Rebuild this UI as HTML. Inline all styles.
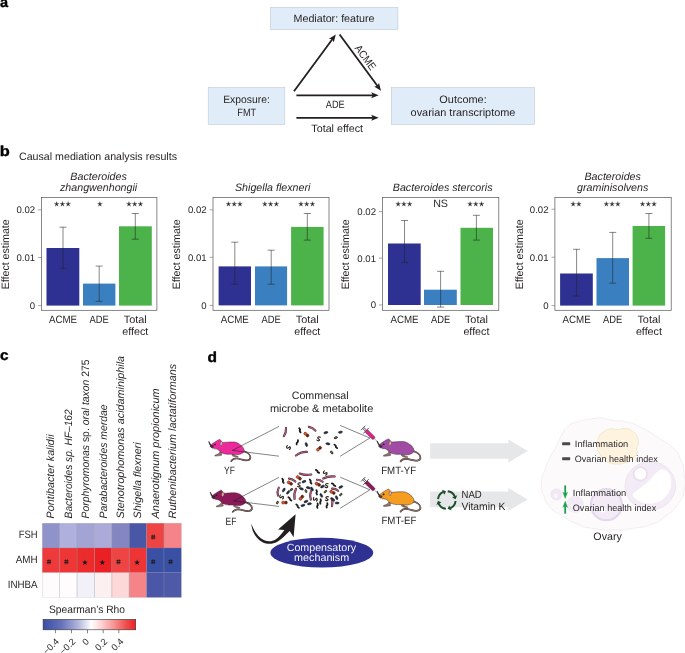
<!DOCTYPE html>
<html><head><meta charset="utf-8"><title>Figure</title>
<style>
html,body{margin:0;padding:0;background:#fff;}
body{width:685px;height:653px;overflow:hidden;}
svg{display:block;font-family:"Liberation Sans",sans-serif;fill:#231f20;will-change:transform;text-rendering:geometricPrecision;}
</style></head><body>
<svg width="685" height="653" viewBox="0 0 685 653">
<rect width="685" height="653" fill="#fff"/>
<g id="pa">
<text transform="translate(-0.1 7.4) scale(1.0 1)" font-size="14.5" font-weight="bold" fill="#000" stroke="#000" stroke-width="0.35" stroke-linejoin="round">a</text>
<rect x="270.4" y="7.5" width="127.5" height="22.1" fill="#e0edf9" stroke="#bfc9d4" stroke-width="0.6"/>
<rect x="208.2" y="87.6" width="76.6" height="36.8" fill="#e0edf9" stroke="#bfc9d4" stroke-width="0.6"/>
<rect x="391.3" y="87.6" width="143.3" height="36.8" fill="#e0edf9" stroke="#bfc9d4" stroke-width="0.6"/>
<text x="334" y="21.7" font-size="10.7" text-anchor="middle" textLength="81" lengthAdjust="spacingAndGlyphs" >Mediator: feature</text>
<text x="246.5" y="103.2" font-size="10.7" text-anchor="middle" textLength="46.6" lengthAdjust="spacingAndGlyphs" >Exposure:</text>
<text x="246.7" y="116" font-size="10.7" text-anchor="middle" textLength="18.8" lengthAdjust="spacingAndGlyphs" >FMT</text>
<text x="463" y="103.2" font-size="10.7" text-anchor="middle" textLength="47.4" lengthAdjust="spacingAndGlyphs" >Outcome:</text>
<text x="463" y="116" font-size="10.7" text-anchor="middle" textLength="104.8" lengthAdjust="spacingAndGlyphs" >ovarian transcriptome</text>
<g stroke="#231f20" stroke-width="1.8" fill="none">
<line x1="294" y1="91.2" x2="334" y2="37"/>
<line x1="339.6" y1="34.5" x2="379" y2="88"/>
<line x1="296.4" y1="95.3" x2="375" y2="95.3"/>
<line x1="296.4" y1="117.8" x2="375" y2="117.8"/>
</g>
<path d="M335.8 34.5 L333.8 42.3 L332.2 39.3 L328.9 38.8Z" fill="#231f20"/>
<path d="M381.0 90.7 L374.1 86.4 L377.4 85.9 L379.0 82.9Z" fill="#231f20"/>
<path d="M378.7 95.3 L371.2 98.3 L372.7 95.3 L371.2 92.3Z" fill="#231f20"/>
<path d="M378.7 117.8 L371.2 120.8 L372.7 117.8 L371.2 114.8Z" fill="#231f20"/>
<text x="335.2" y="108.2" font-size="10.7" text-anchor="middle" textLength="18.8" lengthAdjust="spacingAndGlyphs" >ADE</text>
<text x="337.2" y="131.5" font-size="10.7" text-anchor="middle" textLength="51.7" lengthAdjust="spacingAndGlyphs" >Total effect</text>
<text x="0" y="0" font-size="10.7" text-anchor="middle" textLength="28.2" lengthAdjust="spacingAndGlyphs" transform="translate(362.6 59.6) rotate(53.6)">ACME</text>
</g>
<g id="pb">
<text transform="translate(-0.3 155.8) scale(1.13 1)" font-size="14.5" font-weight="bold" fill="#000" stroke="#000" stroke-width="0.35" stroke-linejoin="round">b</text>
<text x="19" y="159.6" font-size="10.7" textLength="158" lengthAdjust="spacingAndGlyphs" >Causal mediation analysis results</text>
<rect x="41.5" y="197.5" width="115.4" height="112.8" fill="#fff" stroke="#555" stroke-width="0.7"/>
<line x1="38.1" y1="305.6" x2="41.5" y2="305.6" stroke="#6a6a6a" stroke-width="0.6"/>
<text x="35.1" y="309.0" font-size="9.6" text-anchor="end" >0</text>
<line x1="38.1" y1="257.5" x2="41.5" y2="257.5" stroke="#6a6a6a" stroke-width="0.6"/>
<text x="35.1" y="260.9" font-size="9.6" text-anchor="end" >0.01</text>
<line x1="38.1" y1="209.8" x2="41.5" y2="209.8" stroke="#6a6a6a" stroke-width="0.6"/>
<text x="35.1" y="213.2" font-size="9.6" text-anchor="end" >0.02</text>
<rect x="46.5" y="248.0" width="32.8" height="57.6" fill="#2e3192"/>
<rect x="83" y="283.6" width="32.4" height="22.0" fill="#3a80c0"/>
<rect x="119" y="226.3" width="32.8" height="79.3" fill="#4cb24a"/>
<path d="M63 227.2V268.3M59.5 227.2H66.5M59.5 268.3H66.5" stroke="#222" stroke-width="0.55" fill="none"/>
<path d="M99.2 266.1V301.3M95.7 266.1H102.7M95.7 301.3H102.7" stroke="#222" stroke-width="0.55" fill="none"/>
<path d="M135.3 213.5V239.2M131.8 213.5H138.8M131.8 239.2H138.8" stroke="#222" stroke-width="0.55" fill="none"/>
<polygon points="56.65,201.55 57.15,203.41 59.08,203.31 57.46,204.36 58.15,206.16 56.65,204.95 55.15,206.16 55.84,204.36 54.22,203.31 56.15,203.41" fill="#2a2627" stroke="#2a2627" stroke-width="0.25" stroke-linejoin="round"/>
<polygon points="62.40,201.55 62.90,203.41 64.83,203.31 63.21,204.36 63.90,206.16 62.40,204.95 60.90,206.16 61.59,204.36 59.97,203.31 61.90,203.41" fill="#2a2627" stroke="#2a2627" stroke-width="0.25" stroke-linejoin="round"/>
<polygon points="68.15,201.55 68.65,203.41 70.58,203.31 68.96,204.36 69.65,206.16 68.15,204.95 66.65,206.16 67.34,204.36 65.72,203.31 67.65,203.41" fill="#2a2627" stroke="#2a2627" stroke-width="0.25" stroke-linejoin="round"/>
<polygon points="99.90,201.55 100.40,203.41 102.33,203.31 100.71,204.36 101.40,206.16 99.90,204.95 98.40,206.16 99.09,204.36 97.47,203.31 99.40,203.41" fill="#2a2627" stroke="#2a2627" stroke-width="0.25" stroke-linejoin="round"/>
<polygon points="128.95,201.55 129.45,203.41 131.38,203.31 129.76,204.36 130.45,206.16 128.95,204.95 127.45,206.16 128.14,204.36 126.52,203.31 128.45,203.41" fill="#2a2627" stroke="#2a2627" stroke-width="0.25" stroke-linejoin="round"/>
<polygon points="134.70,201.55 135.20,203.41 137.13,203.31 135.51,204.36 136.20,206.16 134.70,204.95 133.20,206.16 133.89,204.36 132.27,203.31 134.20,203.41" fill="#2a2627" stroke="#2a2627" stroke-width="0.25" stroke-linejoin="round"/>
<polygon points="140.45,201.55 140.95,203.41 142.88,203.31 141.26,204.36 141.95,206.16 140.45,204.95 138.95,206.16 139.64,204.36 138.02,203.31 139.95,203.41" fill="#2a2627" stroke="#2a2627" stroke-width="0.25" stroke-linejoin="round"/>
<text x="63" y="322.7" font-size="10.7" text-anchor="middle" textLength="28.2" lengthAdjust="spacingAndGlyphs" >ACME</text>
<text x="99.2" y="322.7" font-size="10.7" text-anchor="middle" textLength="19.3" lengthAdjust="spacingAndGlyphs" >ADE</text>
<text x="135.3" y="322.7" font-size="10.7" text-anchor="middle" textLength="23" lengthAdjust="spacingAndGlyphs" >Total</text>
<text x="135.3" y="335.3" font-size="10.7" text-anchor="middle" >effect</text>
<text x="98.6" y="179.8" font-size="10.7" text-anchor="middle" font-style="italic" >Bacteroides</text>
<text x="98.6" y="190.8" font-size="10.7" text-anchor="middle" font-style="italic" >zhangwenhongii</text>
<text x="0" y="0" font-size="10.7" text-anchor="middle" textLength="70" lengthAdjust="spacingAndGlyphs" transform="translate(9.3 254.3) rotate(-90)">Effect estimate</text>
<rect x="213" y="197.5" width="116.0" height="112.8" fill="#fff" stroke="#555" stroke-width="0.7"/>
<line x1="209.6" y1="305.4" x2="213" y2="305.4" stroke="#6a6a6a" stroke-width="0.6"/>
<text x="206.6" y="308.8" font-size="9.6" text-anchor="end" >0</text>
<line x1="209.6" y1="257.3" x2="213" y2="257.3" stroke="#6a6a6a" stroke-width="0.6"/>
<text x="206.6" y="260.7" font-size="9.6" text-anchor="end" >0.01</text>
<line x1="209.6" y1="209.8" x2="213" y2="209.8" stroke="#6a6a6a" stroke-width="0.6"/>
<text x="206.6" y="213.2" font-size="9.6" text-anchor="end" >0.02</text>
<rect x="218.6" y="266.4" width="32.4" height="39.0" fill="#2e3192"/>
<rect x="255" y="266.4" width="32.1" height="39.0" fill="#3a80c0"/>
<rect x="291.1" y="226.9" width="32.5" height="78.5" fill="#4cb24a"/>
<path d="M234.8 242.2V284.2M231.3 242.2H238.3M231.3 284.2H238.3" stroke="#222" stroke-width="0.55" fill="none"/>
<path d="M271.2 250.2V284.2M267.7 250.2H274.7M267.7 284.2H274.7" stroke="#222" stroke-width="0.55" fill="none"/>
<path d="M307.3 213.5V240.1M303.8 213.5H310.8M303.8 240.1H310.8" stroke="#222" stroke-width="0.55" fill="none"/>
<polygon points="228.45,201.55 228.95,203.41 230.88,203.31 229.26,204.36 229.95,206.16 228.45,204.95 226.95,206.16 227.64,204.36 226.02,203.31 227.95,203.41" fill="#2a2627" stroke="#2a2627" stroke-width="0.25" stroke-linejoin="round"/>
<polygon points="234.20,201.55 234.70,203.41 236.63,203.31 235.01,204.36 235.70,206.16 234.20,204.95 232.70,206.16 233.39,204.36 231.77,203.31 233.70,203.41" fill="#2a2627" stroke="#2a2627" stroke-width="0.25" stroke-linejoin="round"/>
<polygon points="239.95,201.55 240.45,203.41 242.38,203.31 240.76,204.36 241.45,206.16 239.95,204.95 238.45,206.16 239.14,204.36 237.52,203.31 239.45,203.41" fill="#2a2627" stroke="#2a2627" stroke-width="0.25" stroke-linejoin="round"/>
<polygon points="264.85,201.55 265.35,203.41 267.28,203.31 265.66,204.36 266.35,206.16 264.85,204.95 263.35,206.16 264.04,204.36 262.42,203.31 264.35,203.41" fill="#2a2627" stroke="#2a2627" stroke-width="0.25" stroke-linejoin="round"/>
<polygon points="270.60,201.55 271.10,203.41 273.03,203.31 271.41,204.36 272.10,206.16 270.60,204.95 269.10,206.16 269.79,204.36 268.17,203.31 270.10,203.41" fill="#2a2627" stroke="#2a2627" stroke-width="0.25" stroke-linejoin="round"/>
<polygon points="276.35,201.55 276.85,203.41 278.78,203.31 277.16,204.36 277.85,206.16 276.35,204.95 274.85,206.16 275.54,204.36 273.92,203.31 275.85,203.41" fill="#2a2627" stroke="#2a2627" stroke-width="0.25" stroke-linejoin="round"/>
<polygon points="300.95,201.55 301.45,203.41 303.38,203.31 301.76,204.36 302.45,206.16 300.95,204.95 299.45,206.16 300.14,204.36 298.52,203.31 300.45,203.41" fill="#2a2627" stroke="#2a2627" stroke-width="0.25" stroke-linejoin="round"/>
<polygon points="306.70,201.55 307.20,203.41 309.13,203.31 307.51,204.36 308.20,206.16 306.70,204.95 305.20,206.16 305.89,204.36 304.27,203.31 306.20,203.41" fill="#2a2627" stroke="#2a2627" stroke-width="0.25" stroke-linejoin="round"/>
<polygon points="312.45,201.55 312.95,203.41 314.88,203.31 313.26,204.36 313.95,206.16 312.45,204.95 310.95,206.16 311.64,204.36 310.02,203.31 311.95,203.41" fill="#2a2627" stroke="#2a2627" stroke-width="0.25" stroke-linejoin="round"/>
<text x="234.8" y="322.7" font-size="10.7" text-anchor="middle" textLength="28.2" lengthAdjust="spacingAndGlyphs" >ACME</text>
<text x="271.2" y="322.7" font-size="10.7" text-anchor="middle" textLength="19.3" lengthAdjust="spacingAndGlyphs" >ADE</text>
<text x="307.3" y="322.7" font-size="10.7" text-anchor="middle" textLength="23" lengthAdjust="spacingAndGlyphs" >Total</text>
<text x="307.3" y="335.3" font-size="10.7" text-anchor="middle" >effect</text>
<text x="272.7" y="190.8" font-size="10.7" text-anchor="middle" font-style="italic" >Shigella flexneri</text>
<text x="0" y="0" font-size="10.7" text-anchor="middle" textLength="70" lengthAdjust="spacingAndGlyphs" transform="translate(180.2 254.3) rotate(-90)">Effect estimate</text>
<rect x="382.4" y="197.5" width="116.4" height="112.8" fill="#fff" stroke="#555" stroke-width="0.7"/>
<line x1="379.0" y1="305.0" x2="382.4" y2="305.0" stroke="#6a6a6a" stroke-width="0.6"/>
<text x="376.0" y="308.4" font-size="9.6" text-anchor="end" >0</text>
<line x1="379.0" y1="258.1" x2="382.4" y2="258.1" stroke="#6a6a6a" stroke-width="0.6"/>
<text x="376.0" y="261.5" font-size="9.6" text-anchor="end" >0.01</text>
<line x1="379.0" y1="211.6" x2="382.4" y2="211.6" stroke="#6a6a6a" stroke-width="0.6"/>
<text x="376.0" y="215.0" font-size="9.6" text-anchor="end" >0.02</text>
<rect x="388" y="243.5" width="32.7" height="61.5" fill="#2e3192"/>
<rect x="424" y="289.7" width="32.8" height="15.3" fill="#3a80c0"/>
<rect x="460.5" y="227.8" width="32.5" height="77.2" fill="#4cb24a"/>
<path d="M404.5 220.5V262.4M401.0 220.5H408.0M401.0 262.4H408.0" stroke="#222" stroke-width="0.55" fill="none"/>
<path d="M440.6 271.3V307.1M437.1 271.3H444.1M437.1 307.1H444.1" stroke="#222" stroke-width="0.55" fill="none"/>
<path d="M476.4 215.3V240.1M472.9 215.3H479.9M472.9 240.1H479.9" stroke="#222" stroke-width="0.55" fill="none"/>
<polygon points="398.15,201.55 398.65,203.41 400.58,203.31 398.96,204.36 399.65,206.16 398.15,204.95 396.65,206.16 397.34,204.36 395.72,203.31 397.65,203.41" fill="#2a2627" stroke="#2a2627" stroke-width="0.25" stroke-linejoin="round"/>
<polygon points="403.90,201.55 404.40,203.41 406.33,203.31 404.71,204.36 405.40,206.16 403.90,204.95 402.40,206.16 403.09,204.36 401.47,203.31 403.40,203.41" fill="#2a2627" stroke="#2a2627" stroke-width="0.25" stroke-linejoin="round"/>
<polygon points="409.65,201.55 410.15,203.41 412.08,203.31 410.46,204.36 411.15,206.16 409.65,204.95 408.15,206.16 408.84,204.36 407.22,203.31 409.15,203.41" fill="#2a2627" stroke="#2a2627" stroke-width="0.25" stroke-linejoin="round"/>
<text x="440.6" y="207.2" font-size="10.7" text-anchor="middle" >NS</text>
<polygon points="470.05,201.55 470.55,203.41 472.48,203.31 470.86,204.36 471.55,206.16 470.05,204.95 468.55,206.16 469.24,204.36 467.62,203.31 469.55,203.41" fill="#2a2627" stroke="#2a2627" stroke-width="0.25" stroke-linejoin="round"/>
<polygon points="475.80,201.55 476.30,203.41 478.23,203.31 476.61,204.36 477.30,206.16 475.80,204.95 474.30,206.16 474.99,204.36 473.37,203.31 475.30,203.41" fill="#2a2627" stroke="#2a2627" stroke-width="0.25" stroke-linejoin="round"/>
<polygon points="481.55,201.55 482.05,203.41 483.98,203.31 482.36,204.36 483.05,206.16 481.55,204.95 480.05,206.16 480.74,204.36 479.12,203.31 481.05,203.41" fill="#2a2627" stroke="#2a2627" stroke-width="0.25" stroke-linejoin="round"/>
<text x="404.5" y="322.7" font-size="10.7" text-anchor="middle" textLength="28.2" lengthAdjust="spacingAndGlyphs" >ACME</text>
<text x="440.6" y="322.7" font-size="10.7" text-anchor="middle" textLength="19.3" lengthAdjust="spacingAndGlyphs" >ADE</text>
<text x="476.4" y="322.7" font-size="10.7" text-anchor="middle" textLength="23" lengthAdjust="spacingAndGlyphs" >Total</text>
<text x="476.4" y="335.3" font-size="10.7" text-anchor="middle" >effect</text>
<text x="442.7" y="190.8" font-size="10.7" text-anchor="middle" font-style="italic" >Bacteroides stercoris</text>
<text x="0" y="0" font-size="10.7" text-anchor="middle" textLength="70" lengthAdjust="spacingAndGlyphs" transform="translate(348.6 254.3) rotate(-90)">Effect estimate</text>
<rect x="554.9" y="197.5" width="116.3" height="112.8" fill="#fff" stroke="#555" stroke-width="0.7"/>
<line x1="551.5" y1="305.6" x2="554.9" y2="305.6" stroke="#6a6a6a" stroke-width="0.6"/>
<text x="548.5" y="309.0" font-size="9.6" text-anchor="end" >0</text>
<line x1="551.5" y1="257.2" x2="554.9" y2="257.2" stroke="#6a6a6a" stroke-width="0.6"/>
<text x="548.5" y="260.6" font-size="9.6" text-anchor="end" >0.01</text>
<line x1="551.5" y1="209.2" x2="554.9" y2="209.2" stroke="#6a6a6a" stroke-width="0.6"/>
<text x="548.5" y="212.6" font-size="9.6" text-anchor="end" >0.02</text>
<rect x="560.1" y="273.5" width="32.7" height="32.1" fill="#2e3192"/>
<rect x="596.5" y="258.1" width="32.5" height="47.5" fill="#3a80c0"/>
<rect x="632.6" y="226.0" width="32.5" height="79.6" fill="#4cb24a"/>
<path d="M576.6 249.3V296.1M573.1 249.3H580.1M573.1 296.1H580.1" stroke="#222" stroke-width="0.55" fill="none"/>
<path d="M612.7 232.4V283.2M609.2 232.4H616.2M609.2 283.2H616.2" stroke="#222" stroke-width="0.55" fill="none"/>
<path d="M648.9 213.5V238.3M645.4 213.5H652.4M645.4 238.3H652.4" stroke="#222" stroke-width="0.55" fill="none"/>
<polygon points="573.12,201.55 573.62,203.41 575.55,203.31 573.93,204.36 574.62,206.16 573.12,204.95 571.63,206.16 572.32,204.36 570.70,203.31 572.63,203.41" fill="#2a2627" stroke="#2a2627" stroke-width="0.25" stroke-linejoin="round"/>
<polygon points="578.88,201.55 579.37,203.41 581.30,203.31 579.68,204.36 580.37,206.16 578.88,204.95 577.38,206.16 578.07,204.36 576.45,203.31 578.38,203.41" fill="#2a2627" stroke="#2a2627" stroke-width="0.25" stroke-linejoin="round"/>
<polygon points="606.35,201.55 606.85,203.41 608.78,203.31 607.16,204.36 607.85,206.16 606.35,204.95 604.85,206.16 605.54,204.36 603.92,203.31 605.85,203.41" fill="#2a2627" stroke="#2a2627" stroke-width="0.25" stroke-linejoin="round"/>
<polygon points="612.10,201.55 612.60,203.41 614.53,203.31 612.91,204.36 613.60,206.16 612.10,204.95 610.60,206.16 611.29,204.36 609.67,203.31 611.60,203.41" fill="#2a2627" stroke="#2a2627" stroke-width="0.25" stroke-linejoin="round"/>
<polygon points="617.85,201.55 618.35,203.41 620.28,203.31 618.66,204.36 619.35,206.16 617.85,204.95 616.35,206.16 617.04,204.36 615.42,203.31 617.35,203.41" fill="#2a2627" stroke="#2a2627" stroke-width="0.25" stroke-linejoin="round"/>
<polygon points="642.55,201.55 643.05,203.41 644.98,203.31 643.36,204.36 644.05,206.16 642.55,204.95 641.05,206.16 641.74,204.36 640.12,203.31 642.05,203.41" fill="#2a2627" stroke="#2a2627" stroke-width="0.25" stroke-linejoin="round"/>
<polygon points="648.30,201.55 648.80,203.41 650.73,203.31 649.11,204.36 649.80,206.16 648.30,204.95 646.80,206.16 647.49,204.36 645.87,203.31 647.80,203.41" fill="#2a2627" stroke="#2a2627" stroke-width="0.25" stroke-linejoin="round"/>
<polygon points="654.05,201.55 654.55,203.41 656.48,203.31 654.86,204.36 655.55,206.16 654.05,204.95 652.55,206.16 653.24,204.36 651.62,203.31 653.55,203.41" fill="#2a2627" stroke="#2a2627" stroke-width="0.25" stroke-linejoin="round"/>
<text x="576.6" y="322.7" font-size="10.7" text-anchor="middle" textLength="28.2" lengthAdjust="spacingAndGlyphs" >ACME</text>
<text x="612.7" y="322.7" font-size="10.7" text-anchor="middle" textLength="19.3" lengthAdjust="spacingAndGlyphs" >ADE</text>
<text x="648.9" y="322.7" font-size="10.7" text-anchor="middle" textLength="23" lengthAdjust="spacingAndGlyphs" >Total</text>
<text x="648.9" y="335.3" font-size="10.7" text-anchor="middle" >effect</text>
<text x="612.7" y="179.8" font-size="10.7" text-anchor="middle" font-style="italic" >Bacteroides</text>
<text x="612.7" y="190.8" font-size="10.7" text-anchor="middle" font-style="italic" >graminisolvens</text>
<text x="0" y="0" font-size="10.7" text-anchor="middle" textLength="70" lengthAdjust="spacingAndGlyphs" transform="translate(523.2 254.3) rotate(-90)">Effect estimate</text>
</g>
<g id="pc">
<text transform="translate(-0.1 359.9) scale(1.06 1)" font-size="14.5" font-weight="bold" fill="#000" stroke="#000" stroke-width="0.35" stroke-linejoin="round">c</text>
<rect x="42.30" y="523.20" width="17.43" height="24.78" fill="#9092ca"/>
<rect x="59.67" y="523.20" width="17.43" height="24.78" fill="#b0b0dc"/>
<rect x="77.05" y="523.20" width="17.43" height="24.78" fill="#a4a4d4"/>
<rect x="94.42" y="523.20" width="17.43" height="24.78" fill="#acaad8"/>
<rect x="111.80" y="523.20" width="17.43" height="24.78" fill="#8486c2"/>
<rect x="129.18" y="523.20" width="17.43" height="24.78" fill="#4a56a6"/>
<rect x="146.55" y="523.20" width="17.43" height="24.78" fill="#ee4444"/>
<rect x="163.93" y="523.20" width="17.43" height="24.78" fill="#f48488"/>
<rect x="42.30" y="547.93" width="17.43" height="24.78" fill="#ee3a3a"/>
<rect x="59.67" y="547.93" width="17.43" height="24.78" fill="#ee3636"/>
<rect x="77.05" y="547.93" width="17.43" height="24.78" fill="#ec2c2c"/>
<rect x="94.42" y="547.93" width="17.43" height="24.78" fill="#ea2024"/>
<rect x="111.80" y="547.93" width="17.43" height="24.78" fill="#ee4444"/>
<rect x="129.18" y="547.93" width="17.43" height="24.78" fill="#ee3434"/>
<rect x="146.55" y="547.93" width="17.43" height="24.78" fill="#3a50a4"/>
<rect x="163.93" y="547.93" width="17.43" height="24.78" fill="#3a50a4"/>
<rect x="42.30" y="572.66" width="17.43" height="24.78" fill="#fefcfc"/>
<rect x="59.67" y="572.66" width="17.43" height="24.78" fill="#fefcfc"/>
<rect x="77.05" y="572.66" width="17.43" height="24.78" fill="#f2f0f8"/>
<rect x="94.42" y="572.66" width="17.43" height="24.78" fill="#fdf0f0"/>
<rect x="111.80" y="572.66" width="17.43" height="24.78" fill="#fcd8d8"/>
<rect x="129.18" y="572.66" width="17.43" height="24.78" fill="#f48488"/>
<rect x="146.55" y="572.66" width="17.43" height="24.78" fill="#4a56a6"/>
<rect x="163.93" y="572.66" width="17.43" height="24.78" fill="#4e5aa8"/>
<line x1="42.30" y1="523.2" x2="42.30" y2="597.39" stroke="#8e8e9a" stroke-width="0.5" opacity="0.45"/>
<line x1="59.67" y1="523.2" x2="59.67" y2="597.39" stroke="#8e8e9a" stroke-width="0.5" opacity="0.8"/>
<line x1="77.05" y1="523.2" x2="77.05" y2="597.39" stroke="#8e8e9a" stroke-width="0.5" opacity="0.8"/>
<line x1="94.42" y1="523.2" x2="94.42" y2="597.39" stroke="#8e8e9a" stroke-width="0.5" opacity="0.8"/>
<line x1="111.80" y1="523.2" x2="111.80" y2="597.39" stroke="#8e8e9a" stroke-width="0.5" opacity="0.8"/>
<line x1="129.18" y1="523.2" x2="129.18" y2="597.39" stroke="#8e8e9a" stroke-width="0.5" opacity="0.8"/>
<line x1="146.55" y1="523.2" x2="146.55" y2="597.39" stroke="#8e8e9a" stroke-width="0.5" opacity="0.8"/>
<line x1="163.93" y1="523.2" x2="163.93" y2="597.39" stroke="#8e8e9a" stroke-width="0.5" opacity="0.8"/>
<line x1="181.30" y1="523.2" x2="181.30" y2="597.39" stroke="#8e8e9a" stroke-width="0.5" opacity="0.45"/>
<line x1="42.3" y1="523.20" x2="181.30" y2="523.20" stroke="#8e8e9a" stroke-width="0.4" opacity="0.4"/>
<line x1="42.3" y1="547.93" x2="181.30" y2="547.93" stroke="#8e8e9a" stroke-width="0.4" opacity="0.5"/>
<line x1="42.3" y1="572.66" x2="181.30" y2="572.66" stroke="#8e8e9a" stroke-width="0.4" opacity="0.5"/>
<line x1="42.3" y1="597.39" x2="181.30" y2="597.39" stroke="#8e8e9a" stroke-width="0.4" opacity="0.4"/>
<path d="M151.1 536.1H155.3M151.1 538.0H155.3" stroke="#1a1a1a" stroke-width="1.0" fill="none"/>
<path d="M152.5 534.6L152.1 539.6M154.3 534.6L153.9 539.6" stroke="#1a1a1a" stroke-width="0.6" fill="none"/>
<path d="M46.9 560.8H51.1M46.9 562.7H51.1" stroke="#1a1a1a" stroke-width="1.0" fill="none"/>
<path d="M48.3 559.3L47.9 564.3M50.1 559.3L49.7 564.3" stroke="#1a1a1a" stroke-width="0.6" fill="none"/>
<path d="M64.3 560.8H68.5M64.3 562.7H68.5" stroke="#1a1a1a" stroke-width="1.0" fill="none"/>
<path d="M65.7 559.3L65.3 564.3M67.5 559.3L67.1 564.3" stroke="#1a1a1a" stroke-width="0.6" fill="none"/>
<polygon points="84.94,559.60 85.64,561.62 87.79,561.67 86.08,562.97 86.70,565.02 84.94,563.80 83.17,565.02 83.80,562.97 82.08,561.67 84.23,561.62" fill="#1a1a1a"/>
<polygon points="102.31,559.60 103.02,561.62 105.17,561.67 103.45,562.97 104.08,565.02 102.31,563.80 100.55,565.02 101.17,562.97 99.46,561.67 101.61,561.62" fill="#1a1a1a"/>
<path d="M116.4 560.8H120.6M116.4 562.7H120.6" stroke="#1a1a1a" stroke-width="1.0" fill="none"/>
<path d="M117.8 559.3L117.4 564.3M119.6 559.3L119.2 564.3" stroke="#1a1a1a" stroke-width="0.6" fill="none"/>
<polygon points="137.06,559.60 137.77,561.62 139.92,561.67 138.20,562.97 138.83,565.02 137.06,563.80 135.30,565.02 135.92,562.97 134.21,561.67 136.36,561.62" fill="#1a1a1a"/>
<path d="M151.1 560.8H155.3M151.1 562.7H155.3" stroke="#1a1a1a" stroke-width="1.0" fill="none"/>
<path d="M152.5 559.3L152.1 564.3M154.3 559.3L153.9 564.3" stroke="#1a1a1a" stroke-width="0.6" fill="none"/>
<path d="M168.5 560.8H172.7M168.5 562.7H172.7" stroke="#1a1a1a" stroke-width="1.0" fill="none"/>
<path d="M169.9 559.3L169.5 564.3M171.7 559.3L171.3 564.3" stroke="#1a1a1a" stroke-width="0.6" fill="none"/>
<text x="37.6" y="537.9" font-size="10.7" text-anchor="end" textLength="18.8" lengthAdjust="spacingAndGlyphs" >FSH</text>
<text x="37.6" y="562.7" font-size="10.7" text-anchor="end" textLength="21.9" lengthAdjust="spacingAndGlyphs" >AMH</text>
<text x="37.6" y="588.2" font-size="10.7" text-anchor="end" textLength="29.9" lengthAdjust="spacingAndGlyphs" >INHBA</text>
<text x="0" y="0" font-size="10.7" font-style="italic" textLength="84" lengthAdjust="spacingAndGlyphs" transform="translate(54.4 518.4) rotate(-90)">Pontibacter kalidii</text>
<text x="0" y="0" font-size="10.7" font-style="italic" textLength="109" lengthAdjust="spacingAndGlyphs" transform="translate(71.8 518.4) rotate(-90)">Bacteroides sp. HF–162</text>
<text x="0" y="0" font-size="10.7" font-style="italic" textLength="159" lengthAdjust="spacingAndGlyphs" transform="translate(89.1 518.4) rotate(-90)">Porphyromonas <tspan font-style="normal">sp.</tspan> oral taxon <tspan font-style="normal">275</tspan></text>
<text x="0" y="0" font-size="10.7" font-style="italic" textLength="114" lengthAdjust="spacingAndGlyphs" transform="translate(106.5 518.4) rotate(-90)">Parabacteroides merdae</text>
<text x="0" y="0" font-size="10.7" font-style="italic" textLength="162.5" lengthAdjust="spacingAndGlyphs" transform="translate(123.9 518.4) rotate(-90)">Stenotrophomonas acidaminiphila</text>
<text x="0" y="0" font-size="10.7" font-style="italic" textLength="76" lengthAdjust="spacingAndGlyphs" transform="translate(141.3 518.4) rotate(-90)">Shigella flexneri</text>
<text x="0" y="0" font-size="10.7" font-style="italic" textLength="130" lengthAdjust="spacingAndGlyphs" transform="translate(158.6 518.4) rotate(-90)">Anaerotignum propionicum</text>
<text x="0" y="0" font-size="10.7" font-style="italic" textLength="154.5" lengthAdjust="spacingAndGlyphs" transform="translate(176.0 518.4) rotate(-90)">Ruthenibacterium lactatiformans</text>
<text x="49" y="612.8" font-size="10.7" textLength="76" lengthAdjust="spacingAndGlyphs" >Spearman’s Rho</text>
<defs><linearGradient id="cb" x1="0" x2="1" y1="0" y2="0"><stop offset="0" stop-color="#3a4ea4"/><stop offset="0.2" stop-color="#6672ba"/><stop offset="0.38" stop-color="#b2b6dd"/><stop offset="0.52" stop-color="#ffffff"/><stop offset="0.63" stop-color="#fcd2d2"/><stop offset="0.78" stop-color="#f58c8c"/><stop offset="0.9" stop-color="#ef4c4c"/><stop offset="1" stop-color="#ed2024"/></linearGradient></defs>
<rect x="43.1" y="619.4" width="92.6" height="10.4" fill="url(#cb)" stroke="#333" stroke-width="0.6"/>
<line x1="55.4" y1="629.8" x2="55.4" y2="633.3" stroke="#333" stroke-width="0.6"/>
<text x="0" y="0" font-size="9.2" text-anchor="end" transform="translate(59.5 642.2) rotate(-45)">−0.4</text>
<line x1="71.5" y1="629.8" x2="71.5" y2="633.3" stroke="#333" stroke-width="0.6"/>
<text x="0" y="0" font-size="9.2" text-anchor="end" transform="translate(76.1 642.2) rotate(-45)">−0.2</text>
<line x1="87.5" y1="629.8" x2="87.5" y2="633.3" stroke="#333" stroke-width="0.6"/>
<text x="0" y="0" font-size="9.2" text-anchor="end" transform="translate(89.5 642.2) rotate(-45)">0</text>
<line x1="103.2" y1="629.8" x2="103.2" y2="633.3" stroke="#333" stroke-width="0.6"/>
<text x="0" y="0" font-size="9.2" text-anchor="end" transform="translate(107.8 642.2) rotate(-45)">0.2</text>
<line x1="118.8" y1="629.8" x2="118.8" y2="633.3" stroke="#333" stroke-width="0.6"/>
<text x="0" y="0" font-size="9.2" text-anchor="end" transform="translate(124.0 642.2) rotate(-45)">0.4</text>
</g>
<g id="pd">
<text transform="translate(207.5 361.5) scale(1.07 1)" font-size="14.5" font-weight="bold" fill="#000" stroke="#000" stroke-width="0.35" stroke-linejoin="round">d</text>
<text x="320.2" y="399" font-size="10.7" text-anchor="middle" textLength="57" lengthAdjust="spacingAndGlyphs" >Commensal</text>
<text x="321.6" y="411.8" font-size="10.7" text-anchor="middle" textLength="103.4" lengthAdjust="spacingAndGlyphs" >microbe &amp; metabolite</text>
<path d="M430.2 443.2H508.3V439.5L527.7 451.0L508.3 462.5V458.8H430.2Z" fill="#e6e7e8"/>
<path d="M430.2 491.6H508.3V487.9L527.7 499.4L508.3 510.9V507.2H430.2Z" fill="#e6e7e8"/>
<path d="M541.4 483.0C541.7 474.4 541.8 478.8 544.7 470.2C547.6 461.6 546.6 464.8 550.2 457.3C553.8 449.8 551.7 455.2 555.6 447.6C559.5 440.0 557.8 441.7 562.0 434.6C566.2 427.5 562.8 430.6 568.2 426.3C573.6 422.0 569.9 424.2 578.1 421.6C586.3 419.0 584.4 419.7 592.9 418.6C601.4 417.5 597.1 417.6 603.5 418.2C609.9 418.8 605.4 419.2 612.0 420.3C618.6 421.4 616.4 420.2 623.4 421.4C630.4 422.6 627.0 421.6 633.1 423.8C639.2 426.0 635.8 424.8 641.8 427.9C647.8 431.0 644.9 429.3 651.0 433.0C657.1 436.7 652.9 433.9 660.2 438.9C667.5 443.9 666.3 441.4 673.0 448.1C679.7 454.8 676.7 450.5 680.4 459.1C684.1 467.7 682.8 464.1 684.1 473.9C685.4 483.7 686.2 478.8 684.4 488.6C682.6 498.4 684.8 494.1 678.6 503.3C672.4 512.5 674.9 509.2 665.7 516.2C656.5 523.2 662.0 520.4 651.0 524.4C640.0 528.4 644.9 526.4 632.6 528.3C620.3 530.2 628.2 530.1 614.2 530.0C600.2 529.9 603.4 530.3 590.7 528.1C578.0 525.9 585.8 527.8 576.0 523.5C566.2 519.2 569.9 520.7 561.3 515.2C552.7 509.7 556.0 513.4 550.2 507.0C544.4 500.6 546.7 503.9 543.8 495.9C540.9 487.9 541.1 491.6 541.4 483.0Z" fill="#fdfafc" stroke="#f0e8ef" stroke-width="0.8"/>
<path d="M597.5 447.0C597.0 441.5 596.3 443.2 598.5 438.0C600.7 432.8 599.8 434.6 604.0 431.5C608.2 428.4 606.3 429.4 611.0 428.8C615.7 428.2 613.3 429.7 618.0 429.6C622.7 429.5 620.3 428.1 625.0 428.6C629.7 429.1 628.0 428.4 632.0 431.0C636.0 433.6 634.9 432.5 637.0 436.5C639.1 440.5 638.5 438.8 638.3 443.0C638.1 447.2 636.9 445.3 636.5 449.0C636.1 452.7 638.8 450.5 637.0 454.0C635.2 457.5 635.0 456.6 631.0 459.5C627.0 462.4 629.3 461.3 625.0 462.8C620.7 464.3 622.7 463.9 618.0 464.0C613.3 464.1 615.5 464.5 611.0 463.2C606.5 461.9 608.2 462.9 604.5 460.0C600.8 457.1 602.3 458.8 600.0 454.5C597.7 450.2 598.0 452.5 597.5 447.0Z" fill="#fdf3de" stroke="#f0e2c4" stroke-width="0.8"/>
<ellipse cx="650.3" cy="485.8" rx="25.3" ry="24.2" fill="#f3ebf5" stroke="#ebe1ee" stroke-width="0.8"/>
<path d="M660.5 469.6 C663 468.8 666.5 470 669 473.5 C671.5 477.5 671.8 483 670.5 488 C668.5 495.5 662 502.5 652 503.5 C645 504 638.5 502 634 497.5 C632.5 496 632.3 494.5 633.5 493 C637.5 490.5 642.5 486.5 647 482.5 C652 478 656 472.5 660.5 469.6Z" fill="#fff"/>
<circle cx="640.4" cy="473.9" r="6.8" fill="#fffdfe" stroke="#ebe0ef" stroke-width="1.8"/>
<circle cx="606.4" cy="504.7" r="15.5" fill="#f3ecf6" stroke="#e3d8ec" stroke-width="2.2"/>
<circle cx="602.8" cy="510.1" r="2.5" fill="#fff"/>
<circle cx="575.2" cy="504.2" r="8.6" fill="#f2eaf5"/>
<circle cx="571.5" cy="506.1" r="1.4" fill="#fbf8fc"/>
<circle cx="556.4" cy="494.4" r="5.7" fill="#f1e8f4" stroke="#ebe1ef" stroke-width="0.5"/>
<circle cx="555.8" cy="495.8" r="1.5" fill="#f6f0f8" stroke="#fff" stroke-width="0.8"/>
<rect x="562.1" y="442.3" width="8.1" height="3" rx="0.6" fill="#4a4a4a"/>
<rect x="562.1" y="457.2" width="8.1" height="3" rx="0.6" fill="#4a4a4a"/>
<text x="574.8" y="446.7" font-size="9.2" fill="#2e2a2b" textLength="53.5" lengthAdjust="spacingAndGlyphs" >Inflammation</text>
<text x="574.8" y="461.7" font-size="9.2" fill="#2e2a2b" textLength="83" lengthAdjust="spacingAndGlyphs" >Ovarian health index</text>
<text x="572.8" y="495.5" font-size="9.2" fill="#2e2a2b" textLength="53.5" lengthAdjust="spacingAndGlyphs" >Inflammation</text>
<text x="572.8" y="510.6" font-size="9.2" fill="#2e2a2b" textLength="83.4" lengthAdjust="spacingAndGlyphs" >Ovarian health index</text>
<path d="M565.2 485.4V494" stroke="#17a24c" stroke-width="1.8" fill="none"/><path d="M565.2 498.5L562.8000000000001 492.2L565.2 493.6L567.6 492.2Z" fill="#17a24c" stroke="#17a24c" stroke-width="0.3" stroke-linejoin="round"/>
<path d="M565.2 513.7V505.5" stroke="#17a24c" stroke-width="1.8" fill="none"/><path d="M565.2 501.1L562.8000000000001 507.4L565.2 506L567.6 507.4Z" fill="#17a24c" stroke="#17a24c" stroke-width="0.3" stroke-linejoin="round"/>
<text x="607.6" y="539.7" font-size="10.7" text-anchor="middle" >Ovary</text>
<g transform="translate(204 432) scale(1.0)">
<path d="M38.8 19 C43 20 46.6 22.6 46.4 25.6 C46.1 28.6 42 28.9 38 27.6 C35 26.7 32 25.7 29.6 27.1 C28.6 27.7 27.9 28.3 27.3 29" fill="none" stroke="#3a2c2c" stroke-width="1.7" stroke-linecap="round"/>
<path d="M38.8 19 C43 20 46.6 22.6 46.4 25.6 C46.1 28.6 42 28.9 38 27.6 C35 26.7 32 25.7 29.6 27.1 C28.6 27.7 27.9 28.3 27.3 29" fill="none" stroke="#8d766c" stroke-width="1.0" stroke-linecap="round"/>
<path d="M16.2 19.8 C15.2 21.4 13.6 22.4 10.8 23.2 L11 24.1 C13.4 24.2 15.6 23.8 17.6 23.3 L18 22.4 L16.4 22.6 C17.2 21.8 17.8 21 18.3 20.4 Z" fill="#8d766c" stroke="#3a2c2c" stroke-width="0.4"/>
<path d="M28.6 21.6 C29.8 23 31.8 24 34.2 24.5 L34.2 25.3 C31.8 25.4 29.6 24.8 28 23.5 Z" fill="#8d766c" stroke="#3a2c2c" stroke-width="0.4"/>
<path d="M6.5 13.9C7.0 12.8 6.7 13.2 8.3 11.8C10.0 10.4 9.5 10.9 11.4 9.7C13.3 8.5 12.6 8.9 14.0 8.2C15.4 7.5 14.6 7.3 15.6 7.5C16.6 7.7 16.2 7.8 17.1 8.7C18.0 9.6 16.3 9.7 18.2 10.2C20.1 10.7 20.0 10.3 22.8 10.2C25.6 10.1 24.1 10.0 26.6 10.0C29.1 10.0 28.1 9.8 30.4 10.1C32.7 10.4 31.4 10.1 33.4 11.0C35.4 11.9 34.6 11.5 36.4 12.9C38.2 14.3 37.5 13.6 38.7 15.2C39.9 16.8 39.7 16.2 40.0 17.8C40.3 19.4 40.3 18.8 39.5 20.1C38.7 21.4 39.4 20.8 37.6 21.6C35.8 22.4 36.6 22.3 34.2 22.6C31.8 22.9 32.9 22.7 30.4 22.6C27.9 22.4 29.1 22.3 26.6 22.2C24.1 22.1 25.3 22.5 22.8 22.2C20.3 21.9 21.2 22.1 19.0 21.3C16.8 20.5 17.7 20.9 16.3 19.9C14.9 18.9 15.9 19.1 14.8 18.2C13.7 17.3 14.3 17.7 12.9 17.1C11.5 16.6 12.1 17.0 10.6 16.6C9.1 16.1 9.6 16.3 8.3 15.8C7.1 15.3 7.4 15.6 6.8 15.0C6.2 14.4 5.9 15.0 6.5 13.9Z" fill="#ec2a9c" stroke="#3a2430" stroke-width="0.5"/>
<ellipse cx="17.3" cy="11.6" rx="1.25" ry="2.1" transform="rotate(14 17.3 11.6)" fill="#d9ab9f" stroke="#5a3a3a" stroke-width="0.35"/>
<path d="M6.3 14.1 C7 13.2 8.6 13 10 13.8 C9.8 15.4 8.8 16.3 7.7 16 C6.8 15.5 6.2 14.9 6.3 14.1Z" fill="#33222c" opacity="0.8"/>
<path d="M6.7 14.2 C5.5 12.8 4.7 11 4.2 9.2 L5.3 9.5 C5.8 11 6.7 12.3 7.8 13.4 Z" fill="#33262c"/>
<path d="M8.5 15.8 L8.2 17.3 M9.8 16.3 L9.9 17.6 M11 16.6 L11.4 17.6" stroke="#6a5a5a" stroke-width="0.3" fill="none"/>
<ellipse cx="11" cy="12.5" rx="0.95" ry="0.75" fill="#1a1216"/>
</g>
<g transform="translate(205.5 482.8) scale(1.0)">
<path d="M38.8 19 C43 20 46.6 22.6 46.4 25.6 C46.1 28.6 42 28.9 38 27.6 C35 26.7 32 25.7 29.6 27.1 C28.6 27.7 27.9 28.3 27.3 29" fill="none" stroke="#3a2c2c" stroke-width="1.7" stroke-linecap="round"/>
<path d="M38.8 19 C43 20 46.6 22.6 46.4 25.6 C46.1 28.6 42 28.9 38 27.6 C35 26.7 32 25.7 29.6 27.1 C28.6 27.7 27.9 28.3 27.3 29" fill="none" stroke="#8d766c" stroke-width="1.0" stroke-linecap="round"/>
<path d="M16.2 19.8 C15.2 21.4 13.6 22.4 10.8 23.2 L11 24.1 C13.4 24.2 15.6 23.8 17.6 23.3 L18 22.4 L16.4 22.6 C17.2 21.8 17.8 21 18.3 20.4 Z" fill="#8d766c" stroke="#3a2c2c" stroke-width="0.4"/>
<path d="M28.6 21.6 C29.8 23 31.8 24 34.2 24.5 L34.2 25.3 C31.8 25.4 29.6 24.8 28 23.5 Z" fill="#8d766c" stroke="#3a2c2c" stroke-width="0.4"/>
<path d="M6.5 13.9C7.0 12.8 6.7 13.2 8.3 11.8C10.0 10.4 9.5 10.9 11.4 9.7C13.3 8.5 12.6 8.9 14.0 8.2C15.4 7.5 14.6 7.3 15.6 7.5C16.6 7.7 16.2 7.8 17.1 8.7C18.0 9.6 16.3 9.7 18.2 10.2C20.1 10.7 20.0 10.3 22.8 10.2C25.6 10.1 24.1 10.0 26.6 10.0C29.1 10.0 28.1 9.8 30.4 10.1C32.7 10.4 31.4 10.1 33.4 11.0C35.4 11.9 34.6 11.5 36.4 12.9C38.2 14.3 37.5 13.6 38.7 15.2C39.9 16.8 39.7 16.2 40.0 17.8C40.3 19.4 40.3 18.8 39.5 20.1C38.7 21.4 39.4 20.8 37.6 21.6C35.8 22.4 36.6 22.3 34.2 22.6C31.8 22.9 32.9 22.7 30.4 22.6C27.9 22.4 29.1 22.3 26.6 22.2C24.1 22.1 25.3 22.5 22.8 22.2C20.3 21.9 21.2 22.1 19.0 21.3C16.8 20.5 17.7 20.9 16.3 19.9C14.9 18.9 15.9 19.1 14.8 18.2C13.7 17.3 14.3 17.7 12.9 17.1C11.5 16.6 12.1 17.0 10.6 16.6C9.1 16.1 9.6 16.3 8.3 15.8C7.1 15.3 7.4 15.6 6.8 15.0C6.2 14.4 5.9 15.0 6.5 13.9Z" fill="#8c1a58" stroke="#3a2430" stroke-width="0.5"/>
<ellipse cx="17.3" cy="11.6" rx="1.25" ry="2.1" transform="rotate(14 17.3 11.6)" fill="#d9ab9f" stroke="#5a3a3a" stroke-width="0.35"/>
<path d="M6.3 14.1 C7 13.2 8.6 13 10 13.8 C9.8 15.4 8.8 16.3 7.7 16 C6.8 15.5 6.2 14.9 6.3 14.1Z" fill="#33222c" opacity="0.8"/>
<path d="M6.7 14.2 C5.5 12.8 4.7 11 4.2 9.2 L5.3 9.5 C5.8 11 6.7 12.3 7.8 13.4 Z" fill="#33262c"/>
<path d="M8.5 15.8 L8.2 17.3 M9.8 16.3 L9.9 17.6 M11 16.6 L11.4 17.6" stroke="#6a5a5a" stroke-width="0.3" fill="none"/>
<ellipse cx="11" cy="12.5" rx="0.95" ry="0.75" fill="#1a1216"/>
</g>
<g transform="translate(372.2 431.2) scale(1.04)">
<path d="M38.8 19 C43 20 46.6 22.6 46.4 25.6 C46.1 28.6 42 28.9 38 27.6 C35 26.7 32 25.7 29.6 27.1 C28.6 27.7 27.9 28.3 27.3 29" fill="none" stroke="#3a2c2c" stroke-width="1.7" stroke-linecap="round"/>
<path d="M38.8 19 C43 20 46.6 22.6 46.4 25.6 C46.1 28.6 42 28.9 38 27.6 C35 26.7 32 25.7 29.6 27.1 C28.6 27.7 27.9 28.3 27.3 29" fill="none" stroke="#8d766c" stroke-width="1.0" stroke-linecap="round"/>
<path d="M16.2 19.8 C15.2 21.4 13.6 22.4 10.8 23.2 L11 24.1 C13.4 24.2 15.6 23.8 17.6 23.3 L18 22.4 L16.4 22.6 C17.2 21.8 17.8 21 18.3 20.4 Z" fill="#8d766c" stroke="#3a2c2c" stroke-width="0.4"/>
<path d="M28.6 21.6 C29.8 23 31.8 24 34.2 24.5 L34.2 25.3 C31.8 25.4 29.6 24.8 28 23.5 Z" fill="#8d766c" stroke="#3a2c2c" stroke-width="0.4"/>
<path d="M6.5 13.9C7.0 12.8 6.7 13.2 8.3 11.8C10.0 10.4 9.5 10.9 11.4 9.7C13.3 8.5 12.6 8.9 14.0 8.2C15.4 7.5 14.6 7.3 15.6 7.5C16.6 7.7 16.2 7.8 17.1 8.7C18.0 9.6 16.3 9.7 18.2 10.2C20.1 10.7 20.0 10.3 22.8 10.2C25.6 10.1 24.1 10.0 26.6 10.0C29.1 10.0 28.1 9.8 30.4 10.1C32.7 10.4 31.4 10.1 33.4 11.0C35.4 11.9 34.6 11.5 36.4 12.9C38.2 14.3 37.5 13.6 38.7 15.2C39.9 16.8 39.7 16.2 40.0 17.8C40.3 19.4 40.3 18.8 39.5 20.1C38.7 21.4 39.4 20.8 37.6 21.6C35.8 22.4 36.6 22.3 34.2 22.6C31.8 22.9 32.9 22.7 30.4 22.6C27.9 22.4 29.1 22.3 26.6 22.2C24.1 22.1 25.3 22.5 22.8 22.2C20.3 21.9 21.2 22.1 19.0 21.3C16.8 20.5 17.7 20.9 16.3 19.9C14.9 18.9 15.9 19.1 14.8 18.2C13.7 17.3 14.3 17.7 12.9 17.1C11.5 16.6 12.1 17.0 10.6 16.6C9.1 16.1 9.6 16.3 8.3 15.8C7.1 15.3 7.4 15.6 6.8 15.0C6.2 14.4 5.9 15.0 6.5 13.9Z" fill="#a04ca4" stroke="#3a2430" stroke-width="0.5"/>
<ellipse cx="17.3" cy="11.6" rx="1.25" ry="2.1" transform="rotate(14 17.3 11.6)" fill="#d9ab9f" stroke="#5a3a3a" stroke-width="0.35"/>
<path d="M6.3 14.1 C7 13.2 8.6 13 10 13.8 C9.8 15.4 8.8 16.3 7.7 16 C6.8 15.5 6.2 14.9 6.3 14.1Z" fill="#33222c" opacity="0.8"/>
<path d="M6.7 14.2 C5.5 12.8 4.7 11 4.2 9.2 L5.3 9.5 C5.8 11 6.7 12.3 7.8 13.4 Z" fill="#33262c"/>
<path d="M8.5 15.8 L8.2 17.3 M9.8 16.3 L9.9 17.6 M11 16.6 L11.4 17.6" stroke="#6a5a5a" stroke-width="0.3" fill="none"/>
<ellipse cx="11" cy="12.5" rx="0.95" ry="0.75" fill="#1a1216"/>
</g>
<g transform="translate(372.2 481.4) scale(1.04)">
<path d="M38.8 19 C43 20 46.6 22.6 46.4 25.6 C46.1 28.6 42 28.9 38 27.6 C35 26.7 32 25.7 29.6 27.1 C28.6 27.7 27.9 28.3 27.3 29" fill="none" stroke="#3a2c2c" stroke-width="1.7" stroke-linecap="round"/>
<path d="M38.8 19 C43 20 46.6 22.6 46.4 25.6 C46.1 28.6 42 28.9 38 27.6 C35 26.7 32 25.7 29.6 27.1 C28.6 27.7 27.9 28.3 27.3 29" fill="none" stroke="#8d766c" stroke-width="1.0" stroke-linecap="round"/>
<path d="M16.2 19.8 C15.2 21.4 13.6 22.4 10.8 23.2 L11 24.1 C13.4 24.2 15.6 23.8 17.6 23.3 L18 22.4 L16.4 22.6 C17.2 21.8 17.8 21 18.3 20.4 Z" fill="#8d766c" stroke="#3a2c2c" stroke-width="0.4"/>
<path d="M28.6 21.6 C29.8 23 31.8 24 34.2 24.5 L34.2 25.3 C31.8 25.4 29.6 24.8 28 23.5 Z" fill="#8d766c" stroke="#3a2c2c" stroke-width="0.4"/>
<path d="M6.5 13.9C7.0 12.8 6.7 13.2 8.3 11.8C10.0 10.4 9.5 10.9 11.4 9.7C13.3 8.5 12.6 8.9 14.0 8.2C15.4 7.5 14.6 7.3 15.6 7.5C16.6 7.7 16.2 7.8 17.1 8.7C18.0 9.6 16.3 9.7 18.2 10.2C20.1 10.7 20.0 10.3 22.8 10.2C25.6 10.1 24.1 10.0 26.6 10.0C29.1 10.0 28.1 9.8 30.4 10.1C32.7 10.4 31.4 10.1 33.4 11.0C35.4 11.9 34.6 11.5 36.4 12.9C38.2 14.3 37.5 13.6 38.7 15.2C39.9 16.8 39.7 16.2 40.0 17.8C40.3 19.4 40.3 18.8 39.5 20.1C38.7 21.4 39.4 20.8 37.6 21.6C35.8 22.4 36.6 22.3 34.2 22.6C31.8 22.9 32.9 22.7 30.4 22.6C27.9 22.4 29.1 22.3 26.6 22.2C24.1 22.1 25.3 22.5 22.8 22.2C20.3 21.9 21.2 22.1 19.0 21.3C16.8 20.5 17.7 20.9 16.3 19.9C14.9 18.9 15.9 19.1 14.8 18.2C13.7 17.3 14.3 17.7 12.9 17.1C11.5 16.6 12.1 17.0 10.6 16.6C9.1 16.1 9.6 16.3 8.3 15.8C7.1 15.3 7.4 15.6 6.8 15.0C6.2 14.4 5.9 15.0 6.5 13.9Z" fill="#f59d1e" stroke="#3a2430" stroke-width="0.5"/>
<ellipse cx="17.3" cy="11.6" rx="1.25" ry="2.1" transform="rotate(14 17.3 11.6)" fill="#d9ab9f" stroke="#5a3a3a" stroke-width="0.35"/>
<path d="M6.3 14.1 C7 13.2 8.6 13 10 13.8 C9.8 15.4 8.8 16.3 7.7 16 C6.8 15.5 6.2 14.9 6.3 14.1Z" fill="#33222c" opacity="0.8"/>
<path d="M6.7 14.2 C5.5 12.8 4.7 11 4.2 9.2 L5.3 9.5 C5.8 11 6.7 12.3 7.8 13.4 Z" fill="#33262c"/>
<path d="M8.5 15.8 L8.2 17.3 M9.8 16.3 L9.9 17.6 M11 16.6 L11.4 17.6" stroke="#6a5a5a" stroke-width="0.3" fill="none"/>
<ellipse cx="11" cy="12.5" rx="0.95" ry="0.75" fill="#1a1216"/>
</g>
<g stroke="#231f20" stroke-width="0.55" fill="none">
<path d="M232.4 450.4L279 426.4M232.4 450.4L279 456.2"/>
<path d="M233.6 500.9L279 477.4M233.6 500.9L279 506.4"/>
<path d="M340.1 425.4L369.9 438L340.1 456.3"/>
<path d="M340.2 477.2L369.9 489.8L340.2 508.3"/>
</g>
<g transform="translate(366.0 430.7) rotate(44)">
<path d="M-3.9 -0.75H0M-3.9 0.75H0M-3.9 -3.1V3.1M0 -3.9V3.9" stroke="#231f20" stroke-width="0.7" fill="none"/>
<rect x="0" y="-1.75" width="11.3" height="3.5" rx="0.9" fill="#e0208c" stroke="#3a2430" stroke-width="0.4"/>
<path d="M11.3 0H16.5" stroke="#555" stroke-width="0.45"/>
</g>
<g transform="translate(366.0 482.0) rotate(44)">
<path d="M-3.9 -0.75H0M-3.9 0.75H0M-3.9 -3.1V3.1M0 -3.9V3.9" stroke="#231f20" stroke-width="0.7" fill="none"/>
<rect x="0" y="-1.75" width="11.3" height="3.5" rx="0.9" fill="#8c1a58" stroke="#3a2430" stroke-width="0.4"/>
<path d="M11.3 0H16.5" stroke="#555" stroke-width="0.45"/>
</g>
<path d="M-4.2 0 Q0 1.5 4.2 0" transform="translate(284.9 432.2) rotate(-75)" fill="none" stroke="#3a2430" stroke-width="2.1" stroke-linecap="round"/>
<path d="M-4.2 0 Q0 1.5 4.2 0" transform="translate(284.9 432.2) rotate(-75)" fill="none" stroke="#b25a7e" stroke-width="1.3" stroke-linecap="round"/>
<path d="M-0.3 -2.2 L0.3 -0.7 L-0.3 0.7 L0.3 2.2" transform="translate(299.9 430.3) rotate(-10)" fill="none" stroke="#1b1b1b" stroke-width="1.8" stroke-linejoin="round" stroke-linecap="round"/>
<g transform="translate(306.4 434.6) rotate(40)"><circle cx="1.4" cy="0" r="1.5" fill="#7e2412" stroke="#2a120a" stroke-width="0.45"/><circle cx="-1.4" cy="0" r="1.5" fill="#f0561e" stroke="#2a120a" stroke-width="0.45"/></g>
<path d="M-3.8 0 Q0 -1.5 3.8 0" transform="translate(312.1 428.8) rotate(30)" fill="none" stroke="#3a2430" stroke-width="2.1" stroke-linecap="round"/>
<path d="M-3.8 0 Q0 -1.5 3.8 0" transform="translate(312.1 428.8) rotate(30)" fill="none" stroke="#b25a7e" stroke-width="1.3" stroke-linecap="round"/>
<path d="M1.4 -1.7 C-0.4 -2.3 -1.8 -1.2 -0.7 -0.2 C0.4 0.7 1.8 0.9 0.7 1.8 C0 2.3 -1.1 2.1 -1.6 1.6" transform="translate(318.7 438.7) rotate(10)" fill="none" stroke="#2a2018" stroke-width="1.15" stroke-linecap="round"/>
<ellipse cx="0" cy="0" rx="2.15" ry="1.05" transform="translate(325.9 432.6) rotate(-15)" fill="#22304a" stroke="#101010" stroke-width="0.45"/>
<ellipse cx="0" cy="0" rx="2.15" ry="1.05" transform="translate(340.4 432.2) rotate(-10)" fill="#22304a" stroke="#101010" stroke-width="0.45"/>
<ellipse cx="0" cy="0" rx="1.7" ry="0.9" transform="translate(335.8 437.7) rotate(-20)" fill="#7f7f28" stroke="#101010" stroke-width="0.7"/>
<path d="M-0.3 -2.2 L0.3 -0.7 L-0.3 0.7 L0.3 2.2" transform="translate(297.3 442.3) rotate(25)" fill="none" stroke="#1b1b1b" stroke-width="1.8" stroke-linejoin="round" stroke-linecap="round"/>
<ellipse cx="0" cy="0" rx="2.15" ry="1.05" transform="translate(306.4 444.6) rotate(70)" fill="#22304a" stroke="#101010" stroke-width="0.45"/>
<path d="M1.4 -1.7 C-0.4 -2.3 -1.8 -1.2 -0.7 -0.2 C0.4 0.7 1.8 0.9 0.7 1.8 C0 2.3 -1.1 2.1 -1.6 1.6" transform="translate(288.4 447.5) rotate(-70)" fill="none" stroke="#2a2018" stroke-width="1.15" stroke-linecap="round"/>
<g transform="translate(319 448.7) rotate(-40)"><circle cx="1.4" cy="0" r="1.5" fill="#7e2412" stroke="#2a120a" stroke-width="0.45"/><circle cx="-1.4" cy="0" r="1.5" fill="#f0561e" stroke="#2a120a" stroke-width="0.45"/></g>
<ellipse cx="0" cy="0" rx="2.15" ry="1.05" transform="translate(327.9 443.8) rotate(10)" fill="#22304a" stroke="#101010" stroke-width="0.45"/>
<path d="M-0.3 -2.2 L0.3 -0.7 L-0.3 0.7 L0.3 2.2" transform="translate(335.8 446.4) rotate(-30)" fill="none" stroke="#1b1b1b" stroke-width="1.8" stroke-linejoin="round" stroke-linecap="round"/>
<ellipse cx="0" cy="0" rx="1.7" ry="0.9" transform="translate(331.7 452.5) rotate(60)" fill="#7f7f28" stroke="#101010" stroke-width="0.7"/>
<path d="M-5.8 0 Q0 -2.1 5.8 0" transform="translate(301.4 453.7) rotate(-18)" fill="none" stroke="#3a2430" stroke-width="2.1" stroke-linecap="round"/>
<path d="M-5.8 0 Q0 -2.1 5.8 0" transform="translate(301.4 453.7) rotate(-18)" fill="none" stroke="#b25a7e" stroke-width="1.3" stroke-linecap="round"/>
<path d="M-5.8 0 Q0 1.7 5.8 0" transform="translate(305.5 474) rotate(5)" fill="none" stroke="#3a2430" stroke-width="2.1" stroke-linecap="round"/>
<path d="M-5.8 0 Q0 1.7 5.8 0" transform="translate(305.5 474) rotate(5)" fill="none" stroke="#b25a7e" stroke-width="1.3" stroke-linecap="round"/>
<path d="M-0.3 -2.2 L0.3 -0.7 L-0.3 0.7 L0.3 2.2" transform="translate(317.5 471.4) rotate(-40)" fill="none" stroke="#1b1b1b" stroke-width="1.8" stroke-linejoin="round" stroke-linecap="round"/>
<path d="M1.4 -1.7 C-0.4 -2.3 -1.8 -1.2 -0.7 -0.2 C0.4 0.7 1.8 0.9 0.7 1.8 C0 2.3 -1.1 2.1 -1.6 1.6" transform="translate(325.1 472.9) rotate(-60)" fill="none" stroke="#2a2018" stroke-width="1.15" stroke-linecap="round"/>
<path d="M-5.8 0 Q0 -1.7 5.8 0" transform="translate(329 477.5) rotate(-10)" fill="none" stroke="#3a2430" stroke-width="2.1" stroke-linecap="round"/>
<path d="M-5.8 0 Q0 -1.7 5.8 0" transform="translate(329 477.5) rotate(-10)" fill="none" stroke="#b25a7e" stroke-width="1.3" stroke-linecap="round"/>
<g transform="translate(298.8 477.8) rotate(35)"><circle cx="1.4" cy="0" r="1.5" fill="#7e2412" stroke="#2a120a" stroke-width="0.45"/><circle cx="-1.4" cy="0" r="1.5" fill="#f0561e" stroke="#2a120a" stroke-width="0.45"/></g>
<path d="M-0.3 -2.2 L0.3 -0.7 L-0.3 0.7 L0.3 2.2" transform="translate(283 480.8) rotate(-10)" fill="none" stroke="#1b1b1b" stroke-width="1.8" stroke-linejoin="round" stroke-linecap="round"/>
<path d="M-3.5 0 Q0 -1.4 3.5 0" transform="translate(292.2 480.1) rotate(25)" fill="none" stroke="#3a2430" stroke-width="2.1" stroke-linecap="round"/>
<path d="M-3.5 0 Q0 -1.4 3.5 0" transform="translate(292.2 480.1) rotate(25)" fill="none" stroke="#b25a7e" stroke-width="1.3" stroke-linecap="round"/>
<g transform="translate(289.9 483.1) rotate(30)"><circle cx="1.4" cy="0" r="1.5" fill="#7e2412" stroke="#2a120a" stroke-width="0.45"/><circle cx="-1.4" cy="0" r="1.5" fill="#f0561e" stroke="#2a120a" stroke-width="0.45"/></g>
<path d="M1.4 -1.7 C-0.4 -2.3 -1.8 -1.2 -0.7 -0.2 C0.4 0.7 1.8 0.9 0.7 1.8 C0 2.3 -1.1 2.1 -1.6 1.6" transform="translate(299.1 484.7) rotate(0)" fill="none" stroke="#2a2018" stroke-width="1.15" stroke-linecap="round"/>
<ellipse cx="0" cy="0" rx="2.15" ry="1.05" transform="translate(304 481.6) rotate(-20)" fill="#22304a" stroke="#101010" stroke-width="0.45"/>
<path d="M-0.3 -2.2 L0.3 -0.7 L-0.3 0.7 L0.3 2.2" transform="translate(310.6 481.6) rotate(-15)" fill="none" stroke="#1b1b1b" stroke-width="1.8" stroke-linejoin="round" stroke-linecap="round"/>
<path d="M-3.0 0 Q0 -1.2 3.0 0" transform="translate(319.8 480.8) rotate(20)" fill="none" stroke="#3a2430" stroke-width="2.1" stroke-linecap="round"/>
<path d="M-3.0 0 Q0 -1.2 3.0 0" transform="translate(319.8 480.8) rotate(20)" fill="none" stroke="#b25a7e" stroke-width="1.3" stroke-linecap="round"/>
<g transform="translate(317.8 484.2) rotate(25)"><circle cx="1.4" cy="0" r="1.5" fill="#7e2412" stroke="#2a120a" stroke-width="0.45"/><circle cx="-1.4" cy="0" r="1.5" fill="#f0561e" stroke="#2a120a" stroke-width="0.45"/></g>
<path d="M1.4 -1.7 C-0.4 -2.3 -1.8 -1.2 -0.7 -0.2 C0.4 0.7 1.8 0.9 0.7 1.8 C0 2.3 -1.1 2.1 -1.6 1.6" transform="translate(326.7 485.4) rotate(0)" fill="none" stroke="#2a2018" stroke-width="1.15" stroke-linecap="round"/>
<path d="M-0.3 -2.2 L0.3 -0.7 L-0.3 0.7 L0.3 2.2" transform="translate(333.6 484.7) rotate(-45)" fill="none" stroke="#1b1b1b" stroke-width="1.8" stroke-linejoin="round" stroke-linecap="round"/>
<ellipse cx="0" cy="0" rx="2.15" ry="1.05" transform="translate(340.8 487) rotate(-25)" fill="#22304a" stroke="#101010" stroke-width="0.45"/>
<ellipse cx="0" cy="0" rx="2.15" ry="1.05" transform="translate(308.3 487.7) rotate(15)" fill="#22304a" stroke="#101010" stroke-width="0.45"/>
<ellipse cx="0" cy="0" rx="2.15" ry="1.05" transform="translate(301.4 488.8) rotate(20)" fill="#22304a" stroke="#101010" stroke-width="0.45"/>
<path d="M-4.0 0 Q0 -1.6 4.0 0" transform="translate(278.4 491.6) rotate(-85)" fill="none" stroke="#3a2430" stroke-width="2.1" stroke-linecap="round"/>
<path d="M-4.0 0 Q0 -1.6 4.0 0" transform="translate(278.4 491.6) rotate(-85)" fill="none" stroke="#b25a7e" stroke-width="1.3" stroke-linecap="round"/>
<ellipse cx="0" cy="0" rx="2.15" ry="1.05" transform="translate(283.8 490) rotate(-60)" fill="#22304a" stroke="#101010" stroke-width="0.45"/>
<ellipse cx="0" cy="0" rx="2.15" ry="1.05" transform="translate(288.1 492.3) rotate(-50)" fill="#22304a" stroke="#101010" stroke-width="0.45"/>
<ellipse cx="0" cy="0" rx="1.6" ry="0.85" transform="translate(291.4 489.6) rotate(-30)" fill="#7f7f28" stroke="#101010" stroke-width="0.7"/>
<path d="M-5.2 0 Q0 -1.7 5.2 0" transform="translate(295.3 493.9) rotate(-82)" fill="none" stroke="#3a2430" stroke-width="2.1" stroke-linecap="round"/>
<path d="M-5.2 0 Q0 -1.7 5.2 0" transform="translate(295.3 493.9) rotate(-82)" fill="none" stroke="#b25a7e" stroke-width="1.3" stroke-linecap="round"/>
<ellipse cx="0" cy="0" rx="1.6" ry="0.85" transform="translate(306 491.1) rotate(70)" fill="#7f7f28" stroke="#101010" stroke-width="0.7"/>
<path d="M-5.0 0 Q0 -2.0 5.0 0" transform="translate(311.3 494.6) rotate(-85)" fill="none" stroke="#3a2430" stroke-width="2.1" stroke-linecap="round"/>
<path d="M-5.0 0 Q0 -2.0 5.0 0" transform="translate(311.3 494.6) rotate(-85)" fill="none" stroke="#b25a7e" stroke-width="1.3" stroke-linecap="round"/>
<path d="M-0.3 -2.2 L0.3 -0.7 L-0.3 0.7 L0.3 2.2" transform="translate(316.7 492.3) rotate(0)" fill="none" stroke="#1b1b1b" stroke-width="1.8" stroke-linejoin="round" stroke-linecap="round"/>
<ellipse cx="0" cy="0" rx="1.6" ry="0.85" transform="translate(325.4 491.6) rotate(-40)" fill="#7f7f28" stroke="#101010" stroke-width="0.7"/>
<g transform="translate(332.5 492.3) rotate(30)"><circle cx="1.4" cy="0" r="1.5" fill="#7e2412" stroke="#2a120a" stroke-width="0.45"/><circle cx="-1.4" cy="0" r="1.5" fill="#f0561e" stroke="#2a120a" stroke-width="0.45"/></g>
<path d="M-3.2 0 Q0 -1.3 3.2 0" transform="translate(335.1 489.7) rotate(20)" fill="none" stroke="#3a2430" stroke-width="2.1" stroke-linecap="round"/>
<path d="M-3.2 0 Q0 -1.3 3.2 0" transform="translate(335.1 489.7) rotate(20)" fill="none" stroke="#b25a7e" stroke-width="1.3" stroke-linecap="round"/>
<ellipse cx="0" cy="0" rx="1.6" ry="0.85" transform="translate(340.8 494.6) rotate(-45)" fill="#7f7f28" stroke="#101010" stroke-width="0.7"/>
<ellipse cx="0" cy="0" rx="2.15" ry="1.05" transform="translate(321.3 495.4) rotate(60)" fill="#22304a" stroke="#101010" stroke-width="0.45"/>
<path d="M1.4 -1.7 C-0.4 -2.3 -1.8 -1.2 -0.7 -0.2 C0.4 0.7 1.8 0.9 0.7 1.8 C0 2.3 -1.1 2.1 -1.6 1.6" transform="translate(281.5 496.9) rotate(-70)" fill="none" stroke="#2a2018" stroke-width="1.15" stroke-linecap="round"/>
<g transform="translate(301.4 497.7) rotate(-50)"><circle cx="1.4" cy="0" r="1.5" fill="#7e2412" stroke="#2a120a" stroke-width="0.45"/><circle cx="-1.4" cy="0" r="1.5" fill="#f0561e" stroke="#2a120a" stroke-width="0.45"/></g>
<path d="M-0.3 -2.2 L0.3 -0.7 L-0.3 0.7 L0.3 2.2" transform="translate(289.9 498.9) rotate(-35)" fill="none" stroke="#1b1b1b" stroke-width="1.8" stroke-linejoin="round" stroke-linecap="round"/>
<path d="M1.4 -1.7 C-0.4 -2.3 -1.8 -1.2 -0.7 -0.2 C0.4 0.7 1.8 0.9 0.7 1.8 C0 2.3 -1.1 2.1 -1.6 1.6" transform="translate(315.2 499.2) rotate(-80)" fill="none" stroke="#2a2018" stroke-width="1.15" stroke-linecap="round"/>
<path d="M1.4 -1.7 C-0.4 -2.3 -1.8 -1.2 -0.7 -0.2 C0.4 0.7 1.8 0.9 0.7 1.8 C0 2.3 -1.1 2.1 -1.6 1.6" transform="translate(327 498.5) rotate(0)" fill="none" stroke="#2a2018" stroke-width="1.15" stroke-linecap="round"/>
<ellipse cx="0" cy="0" rx="2.15" ry="1.05" transform="translate(336.6 497.7) rotate(70)" fill="#22304a" stroke="#101010" stroke-width="0.45"/>
<ellipse cx="0" cy="0" rx="1.5" ry="0.8" transform="translate(277.4 502.6) rotate(-70)" fill="#7f7f28" stroke="#101010" stroke-width="0.7"/>
<g transform="translate(284.5 502.6) rotate(0)"><circle cx="1.4" cy="0" r="1.5" fill="#7e2412" stroke="#2a120a" stroke-width="0.45"/><circle cx="-1.4" cy="0" r="1.5" fill="#f0561e" stroke="#2a120a" stroke-width="0.45"/></g>
<ellipse cx="0" cy="0" rx="2.15" ry="1.05" transform="translate(306 501.5) rotate(-20)" fill="#22304a" stroke="#101010" stroke-width="0.45"/>
<path d="M-0.3 -2.2 L0.3 -0.7 L-0.3 0.7 L0.3 2.2" transform="translate(320.5 501.5) rotate(10)" fill="none" stroke="#1b1b1b" stroke-width="1.8" stroke-linejoin="round" stroke-linecap="round"/>
<path d="M-4.0 0 Q0 -1.6 4.0 0" transform="translate(331.7 502.3) rotate(85)" fill="none" stroke="#3a2430" stroke-width="2.1" stroke-linecap="round"/>
<path d="M-4.0 0 Q0 -1.6 4.0 0" transform="translate(331.7 502.3) rotate(85)" fill="none" stroke="#b25a7e" stroke-width="1.3" stroke-linecap="round"/>
<ellipse cx="0" cy="0" rx="2.15" ry="1.05" transform="translate(337.1 503) rotate(0)" fill="#22304a" stroke="#101010" stroke-width="0.45"/>
<path d="M-0.3 -2.2 L0.3 -0.7 L-0.3 0.7 L0.3 2.2" transform="translate(297.6 506.1) rotate(-30)" fill="none" stroke="#1b1b1b" stroke-width="1.8" stroke-linejoin="round" stroke-linecap="round"/>
<ellipse cx="0" cy="0" rx="2.15" ry="1.05" transform="translate(302.9 505.4) rotate(-15)" fill="#22304a" stroke="#101010" stroke-width="0.45"/>
<ellipse cx="0" cy="0" rx="2.15" ry="1.05" transform="translate(309.5 503.8) rotate(-10)" fill="#22304a" stroke="#101010" stroke-width="0.45"/>
<path d="M-0.3 -2.2 L0.3 -0.7 L-0.3 0.7 L0.3 2.2" transform="translate(317.5 505.7) rotate(10)" fill="none" stroke="#1b1b1b" stroke-width="1.8" stroke-linejoin="round" stroke-linecap="round"/>
<path d="M-0.3 -2.2 L0.3 -0.7 L-0.3 0.7 L0.3 2.2" transform="translate(327 505.4) rotate(15)" fill="none" stroke="#1b1b1b" stroke-width="1.8" stroke-linejoin="round" stroke-linecap="round"/>
<ellipse cx="0" cy="0" rx="2.15" ry="1.05" transform="translate(312 489) rotate(60)" fill="#22304a" stroke="#101010" stroke-width="0.45"/>
<ellipse cx="0" cy="0" rx="2.15" ry="1.05" transform="translate(322.5 486.5) rotate(-30)" fill="#22304a" stroke="#101010" stroke-width="0.45"/>
<ellipse cx="0" cy="0" rx="2.15" ry="1.05" transform="translate(333 499.5) rotate(40)" fill="#22304a" stroke="#101010" stroke-width="0.45"/>
<text x="229.5" y="474.2" font-size="10.7" text-anchor="middle" textLength="10.8" lengthAdjust="spacingAndGlyphs" >YF</text>
<text x="230.9" y="524.8" font-size="10.7" text-anchor="middle" textLength="10.8" lengthAdjust="spacingAndGlyphs" >EF</text>
<text x="398.7" y="473.8" font-size="10.7" text-anchor="middle" textLength="35" lengthAdjust="spacingAndGlyphs" >FMT-YF</text>
<text x="398.9" y="524.4" font-size="10.7" text-anchor="middle" textLength="35" lengthAdjust="spacingAndGlyphs" >FMT-EF</text>
<g transform="translate(446.8 500.1)" fill="none" stroke="#1b4d2b" stroke-width="2.0">
<path d="M0.92 -8.75A8.8 8.8 0 0 1 8.16 -3.30"/>
<path d="M8.77 -0.77L5.35 -2.48L10.43 -4.84Z" fill="#1b4d2b" stroke="none"/>
<path d="M8.75 0.92A8.8 8.8 0 0 1 3.30 8.16"/>
<path d="M0.77 8.77L2.48 5.35L4.84 10.43Z" fill="#1b4d2b" stroke="none"/>
<path d="M-0.92 8.75A8.8 8.8 0 0 1 -8.16 3.30"/>
<path d="M-8.77 0.77L-5.35 2.48L-10.43 4.84Z" fill="#1b4d2b" stroke="none"/>
<path d="M-8.75 -0.92A8.8 8.8 0 0 1 -3.30 -8.16"/>
<path d="M-0.77 -8.77L-2.48 -5.35L-4.84 -10.43Z" fill="#1b4d2b" stroke="none"/>
</g>
<text x="461.5" y="497.7" font-size="10.7" textLength="20.2" lengthAdjust="spacingAndGlyphs" >NAD</text>
<text x="461.5" y="510.3" font-size="10.7" textLength="44" lengthAdjust="spacingAndGlyphs" >Vitamin K</text>
<ellipse cx="321.8" cy="552.7" rx="51.4" ry="14.9" fill="#2e3192"/>
<text x="321.4" y="551.1" font-size="10.5" text-anchor="middle" fill="#f4f4fb" textLength="69.4" lengthAdjust="spacingAndGlyphs" >Compensatory</text>
<text x="321.6" y="561.0" font-size="10.5" text-anchor="middle" fill="#f4f4fb" textLength="55" lengthAdjust="spacingAndGlyphs" >mechanism</text>
<path d="M251.3 523.6 C251.6 530.5 255 537.8 262.5 542.2 C267 544.4 272.6 544.3 277 542 C282 539 286 534.6 289.7 530.9 L293.6 537.3 L295.6 514.3 L278.1 529.5 L284.4 529.9 C281.5 534 278.6 537.4 275.6 539.5 C272 541.8 267.6 541.6 264.3 540.3 C258 537.3 254 531 251.3 523.6Z" fill="#231f20"/>
</g>
</svg>
</body></html>
